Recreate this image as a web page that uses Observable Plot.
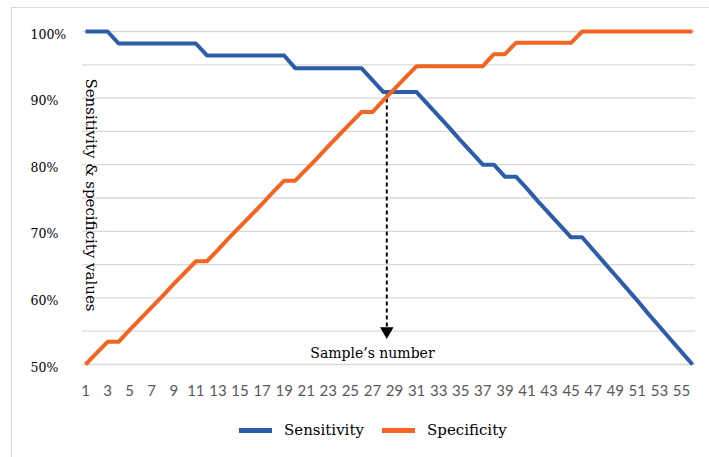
<!DOCTYPE html>
<html><head><meta charset="utf-8">
<script src="https://cdn.jsdelivr.net/npm/d3@7"></script>
<script src="https://cdn.jsdelivr.net/npm/@observablehq/plot@0.6"></script>
<style>
body{margin:0;background:#fff;}
#wrap{position:relative;width:709px;height:457px;overflow:hidden;background:#fff;}
#border{position:absolute;left:11px;top:7px;width:720px;height:470px;border:1px solid #d9d9d9;}
#chart{position:absolute;left:0;top:0;}
#legend{position:absolute;top:420px;left:0;width:709px;height:20px;font-family:"DejaVu Serif";font-size:15px;color:#000;}
.sw{position:absolute;height:5px;top:8px;}
.lab{position:absolute;top:0;line-height:20px;white-space:nowrap;}
</style></head>
<body>
<div id="wrap"><div id="border"></div><div id="chart"></div><div id="legend"></div></div>
<script>
const samples = [1,2,3,4,5,6,7,8,9,10,11,12,13,14,15,16,17,18,19,20,21,22,23,24,25,26,27,28,29,30,31,32,33,34,35,36,37,38,39,40,41,42,43,44,45,46,47,48,49,50,51,52,53,54,55,56];
const sensitivity = [100,100,100,98.2,98.2,98.2,98.2,98.2,98.2,98.2,98.2,
  96.4,96.4,96.4,96.4,96.4,96.4,96.4,96.4,
  94.5,94.5,94.5,94.5,94.5,94.5,94.5,
  92.7,90.9,90.9,90.9,90.9,
  89.1,87.3,85.5,83.6,81.8,80.0,80.0,78.2,78.2,
  76.4,74.5,72.7,70.9,69.1,69.1,
  67.2,65.3,63.4,61.5,59.6,57.6,55.7,53.8,51.9,50.0];
const specificity = [50.0,51.7,53.4,53.4,55.2,56.9,58.6,60.3,62.1,63.8,65.5,65.5,
  67.2,69.0,70.7,72.4,74.1,75.9,77.6,77.6,79.3,81.0,82.8,84.5,86.2,87.9,87.9,
  89.7,91.4,93.1,94.8,94.8,94.8,94.8,94.8,94.8,94.8,96.6,96.6,
  98.3,98.3,98.3,98.3,98.3,98.3,
  100,100,100,100,100,100,100,100,100,100,100];
const seriesNames = ["Sensitivity","Specificity"];
const seriesColors = ["#2D5CA9","#F26522"];
const xTicks = [1,3,5,7,9,11,13,15,17,19,21,23,25,27,29,31,33,35,37,39,41,43,45,47,49,51,53,55];
const yTicks = [50,60,70,80,90,100];
const gridValues = [50,55,60,65,70,75,80,85,90,95,100];
const yTitle = "Sensitivity & specificity values";
const cutoffLabel = "Sample\u2019s number";
const cutoffSample = [28.3];
const cutoffTop = [90.9];
const cutoffEnd = [55.0];
const cutoffLabelPos = [27, 51.7];

const rows = [];
seriesNames.forEach((s, k) => {
  const vals = k === 0 ? sensitivity : specificity;
  samples.forEach((x, i) => rows.push({series: s, sample: x, value: vals[i]}));
});
const cutoff = [{sample: cutoffSample[0], top: cutoffTop[0], end: cutoffEnd[0]}];

const chart = Plot.plot({
  width: 709, height: 400,
  marginLeft: 82, marginRight: 14, marginTop: 31, marginBottom: 36,
  x: {domain: [1, 56], range: [85, 692]},
  y: {domain: [50, 100], range: [364, 31]},
  color: {domain: seriesNames, range: seriesColors},
  style: {background: "transparent", overflow: "visible"},
  marks: [
    Plot.ruleY(gridValues, {stroke: "#d9d9d9", strokeWidth: 1.3}),
    Plot.axisY(yTicks, {tickSize: 0, tickPadding: 0, textAnchor: "start", dx: -52, dy: 3,
      tickFormat: d => d + "%", fontFamily: "DejaVu Serif", fontSize: 12.5, fill: "#000", label: null}),
    Plot.axisX(xTicks, {tickSize: 0, tickPadding: 21, fontFamily: "Lato", fontSize: 15, fill: "#595959", label: null}),
    Plot.text([yTitle], {frameAnchor: "left", textAnchor: "middle", lineAnchor: "middle", dx: 8, dy: -3, rotate: 90, fontFamily: "DejaVu Serif", fontSize: 15, fill: "#000"}),
    Plot.ruleX(cutoff, {x: "sample", y1: "top", y2: "end", stroke: "#000", strokeWidth: 2, strokeDasharray: "4,3"}),
    Plot.dot(cutoff, {x: "sample", y: "end", symbol: "triangle", rotate: 180, r: 5, fill: "#000", stroke: "none"}),
    Plot.text([cutoffLabel], {x: () => cutoffLabelPos[0], y: () => cutoffLabelPos[1], fontFamily: "DejaVu Serif", fontSize: 14, fill: "#000"}),
    Plot.line(rows, {x: "sample", y: "value", z: "series", stroke: "series", strokeWidth: 4, strokeLinejoin: "round", strokeLinecap: "butt"})
  ]
});
document.getElementById("chart").appendChild(chart);

const legend = document.getElementById("legend");
const swLeft = [239, 382], labLeft = [284, 427];
seriesNames.forEach((s, i) => {
  const sw = document.createElement("div");
  sw.className = "sw"; sw.style.left = swLeft[i] + "px"; sw.style.width = "33px"; sw.style.background = seriesColors[i];
  const lab = document.createElement("div");
  lab.className = "lab"; lab.style.left = labLeft[i] + "px"; lab.textContent = s;
  legend.appendChild(sw); legend.appendChild(lab);
});
</script>
</body></html>
